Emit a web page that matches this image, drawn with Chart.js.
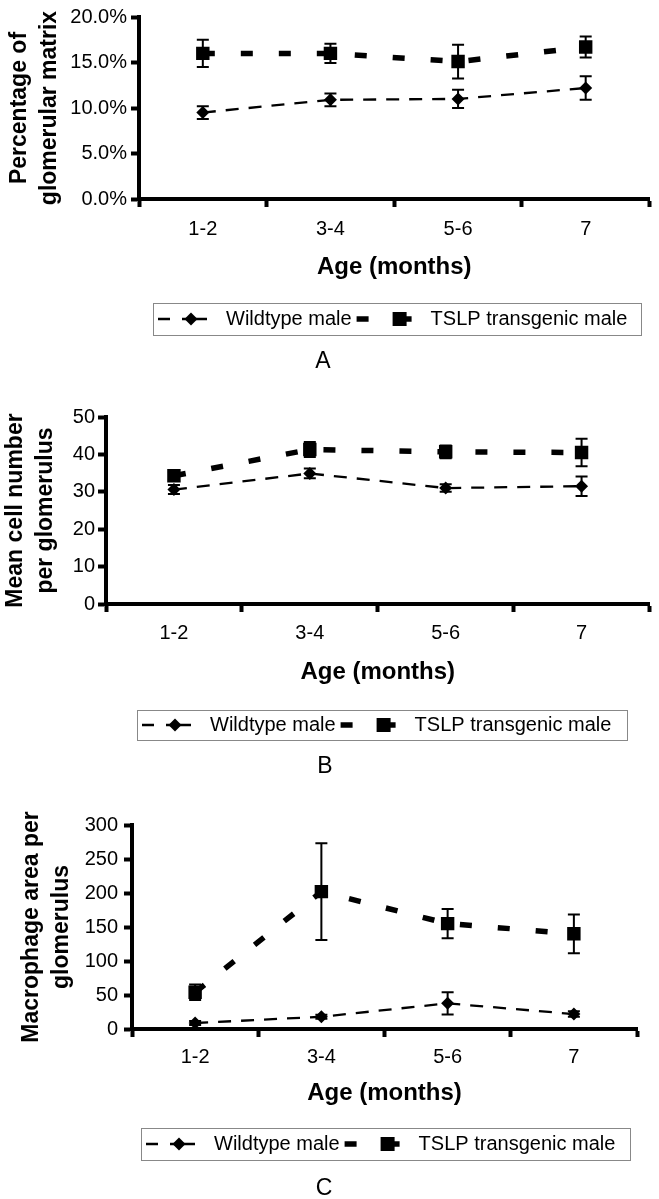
<!DOCTYPE html>
<html>
<head>
<meta charset="utf-8">
<script src="https://cdn.jsdelivr.net/npm/chart.js@4.4.0/dist/chart.umd.min.js"></script>
<style>
  html, body { margin: 0; padding: 0; background: #fff; }
  #wrap { position: relative; width: 659px; height: 1199px; overflow: hidden; background: #fff; }
  canvas { position: absolute; left: 0; }
</style>
</head>
<body>
<div id="wrap">
  <canvas id="chartA" width="659" height="385" style="top:0"></canvas>
  <canvas id="chartB" width="659" height="400" style="top:385px"></canvas>
  <canvas id="chartC" width="659" height="414" style="top:785px"></canvas>
</div>
<script>
const FONT = "'Liberation Sans', Arial, sans-serif";

const ageLabels = ['1-2', '3-4', '5-6', '7'];
const seriesNames = ['Wildtype male', 'TSLP transgenic male'];
const xTitle = 'Age (months)';

// A - percentage of glomerular matrix (%)
const matrixWildtype = [9.5, 10.9, 11.0, 12.2];
const matrixWildtypeErr = [0.7, 0.7, 1.0, 1.3];
const matrixTslp = [16.0, 16.0, 15.1, 16.7];
const matrixTslpErr = [1.5, 1.05, 1.85, 1.15];
const matrixTicks = [0, 5, 10, 15, 20];

// B - mean cell number per glomerulus
const cellWildtype = [30.6, 34.9, 31.0, 31.5];
const cellWildtypeErr = [1.2, 1.3, 1.0, 2.6];
const cellTslp = [34.3, 41.3, 40.7, 40.5];
const cellTslpErr = [1.0, 2.0, 1.7, 3.7];
const cellTicks = [0, 10, 20, 30, 40, 50];

// C - macrophage area per glomerulus
const macroWildtype = [8.8, 18, 37.7, 22];
const macroWildtypeErr = [3, 3, 16.5, 4];
const macroTslp = [54, 202, 155, 140];
const macroTslpErr = [11.5, 71, 21.5, 28.5];
const macroTicks = [0, 50, 100, 150, 200, 250, 300];

// vertical error bars with caps, drawn from each dataset's errors array
const errorBars = {
  id: 'errorBars',
  afterDatasetsDraw(chart) {
    const ctx = chart.ctx;
    const y = chart.scales.y;
    chart.data.datasets.forEach((ds, i) => {
      const meta = chart.getDatasetMeta(i);
      ctx.save();
      ctx.strokeStyle = '#000';
      ctx.lineWidth = 2;
      meta.data.forEach((pt, j) => {
        const top = y.getPixelForValue(ds.data[j] + ds.errors[j]);
        const bot = y.getPixelForValue(ds.data[j] - ds.errors[j]);
        ctx.beginPath();
        ctx.moveTo(pt.x, top); ctx.lineTo(pt.x, bot);
        ctx.moveTo(pt.x - 6, top); ctx.lineTo(pt.x + 6, top);
        ctx.moveTo(pt.x - 6, bot); ctx.lineTo(pt.x + 6, bot);
        ctx.stroke();
      });
      ctx.restore();
    });
  }
};

// boxed legend under the chart, same look as the original figure
const boxLegend = {
  id: 'boxLegend',
  afterDraw(chart, args, opts) {
    const ctx = chart.ctx;
    const [wt, tg] = chart.data.datasets;
    const midY = opts.y + opts.h / 2;
    ctx.save();
    ctx.strokeStyle = '#888';
    ctx.lineWidth = 1;
    ctx.strokeRect(opts.x + 0.5, opts.y + 0.5, opts.w, opts.h);

    ctx.strokeStyle = '#000';
    ctx.fillStyle = '#000';
    let x = opts.x + 5;
    ctx.lineWidth = wt.borderWidth;
    ctx.beginPath();
    ctx.moveTo(x, midY); ctx.lineTo(x + 12, midY);
    ctx.moveTo(x + 24, midY); ctx.lineTo(x + 49, midY);
    ctx.stroke();
    const d = wt.pointRadius;
    ctx.beginPath();
    ctx.moveTo(x + 33, midY - d); ctx.lineTo(x + 33 + d, midY);
    ctx.lineTo(x + 33, midY + d); ctx.lineTo(x + 33 - d, midY);
    ctx.closePath(); ctx.fill();

    ctx.font = '20px ' + FONT;
    ctx.textBaseline = 'middle';
    ctx.textAlign = 'left';
    x = opts.x + 73;
    ctx.fillText(wt.label, x, midY);
    x += ctx.measureText(wt.label).width + 5;

    ctx.lineWidth = tg.borderWidth;
    ctx.beginPath();
    ctx.moveTo(x, midY); ctx.lineTo(x + 12, midY);
    ctx.moveTo(x + 38, midY); ctx.lineTo(x + 55, midY);
    ctx.stroke();
    const s = 7;
    ctx.fillRect(x + 43 - s, midY - s, 2 * s, 2 * s);
    ctx.fillText(tg.label, x + 74, midY);

    ctx.font = '23px ' + FONT;
    ctx.textAlign = 'center';
    ctx.fillText(opts.letter, opts.letterX, opts.letterY);
    ctx.restore();
  }
};

function makePanel(id, cfg) {
  const canvas = document.getElementById(id);
  const H = canvas.height;
  const scaleBottom = cfg.titleY + 14.4;
  const axisLine = { display: true, width: 4, color: '#000' };
  const tickMarks = { display: true, drawOnChartArea: false, drawTicks: true, tickLength: 8, tickWidth: 4, color: '#000' };
  return new Chart(canvas, {
    type: 'line',
    data: {
      labels: ageLabels,
      datasets: [
        {
          label: seriesNames[0], data: cfg.wt, errors: cfg.wtErr,
          borderColor: '#000', backgroundColor: '#000', borderWidth: 2.3, borderDash: [13, 10],
          pointStyle: 'rectRot', pointRadius: 6.5, pointBorderWidth: 0, pointBackgroundColor: '#000',
          tension: 0, fill: false
        },
        {
          label: seriesNames[1], data: cfg.tg, errors: cfg.tgErr,
          borderColor: '#000', backgroundColor: '#000', borderWidth: 5.5, borderDash: [12, 26], borderCapStyle: 'butt',
          pointStyle: 'rect', pointRadius: 9.5, pointBorderWidth: 0, pointBackgroundColor: '#000',
          tension: 0, fill: false
        }
      ]
    },
    options: {
      responsive: false,
      animation: false,
      layout: { padding: { top: cfg.top, right: 659 - cfg.right, bottom: H - scaleBottom, left: 0 } },
      plugins: {
        legend: { display: false },
        tooltip: { enabled: false },
        boxLegend: cfg.legend
      },
      scales: {
        x: {
          type: 'category',
          offset: true,
          afterFit: s => { s.height = scaleBottom - cfg.bottom; },
          grid: { ...tickMarks, offset: true },
          border: axisLine,
          ticks: { color: '#000', font: { family: FONT, size: 20 }, padding: cfg.xPad, maxRotation: 0, autoSkip: false },
          title: { display: true, text: xTitle, color: '#000', font: { family: FONT, size: 24, weight: 'bold' }, padding: 0 }
        },
        y: {
          min: cfg.ticks[0],
          max: cfg.ticks[cfg.ticks.length - 1],
          afterFit: s => { s.width = cfg.left; },
          afterBuildTicks: s => { s.ticks = cfg.ticks.map(v => ({ value: v })); },
          grid: tickMarks,
          border: axisLine,
          ticks: { color: '#000', font: { family: FONT, size: 20 }, padding: cfg.yPad, callback: cfg.fmt },
          title: {
            display: true, text: cfg.yTitle, color: '#000',
            font: { family: FONT, size: 23, weight: 'bold', lineHeight: 30 / 23 },
            padding: { top: cfg.yTitlePad, bottom: 0 }
          }
        }
      }
    },
    plugins: [errorBars, boxLegend]
  });
}

makePanel('chartA', {
  wt: matrixWildtype, wtErr: matrixWildtypeErr, tg: matrixTslp, tgErr: matrixTslpErr,
  ticks: matrixTicks, fmt: v => v.toFixed(1) + '%',
  yTitle: ['Percentage of', 'glomerular matrix'], yTitlePad: 5,
  top: 17, bottom: 199, left: 139, right: 655, titleY: 267, xPad: 10, yPad: 4,
  legend: { x: 153, y: 303, w: 488, h: 32, letter: 'A', letterX: 323, letterY: 362 }
});

makePanel('chartB', {
  wt: cellWildtype, wtErr: cellWildtypeErr, tg: cellTslp, tgErr: cellTslpErr,
  ticks: cellTicks, fmt: v => v,
  yTitle: ['Mean cell number', 'per glomerulus'], yTitlePad: 1,
  top: 32, bottom: 219, left: 106, right: 654, titleY: 287, xPad: 9, yPad: 3,
  legend: { x: 137, y: 325, w: 490, h: 30, letter: 'B', letterX: 325, letterY: 382 }
});

makePanel('chartC', {
  wt: macroWildtype, wtErr: macroWildtypeErr, tg: macroTslp, tgErr: macroTslpErr,
  ticks: macroTicks, fmt: v => v,
  yTitle: ['Macrophage area per', 'glomerulus'], yTitlePad: 17,
  top: 40, bottom: 244, left: 132, right: 637, titleY: 308, xPad: 8, yPad: 6,
  legend: { x: 141, y: 343, w: 489, h: 32, letter: 'C', letterX: 324, letterY: 404 }
});
</script>
</body>
</html>
